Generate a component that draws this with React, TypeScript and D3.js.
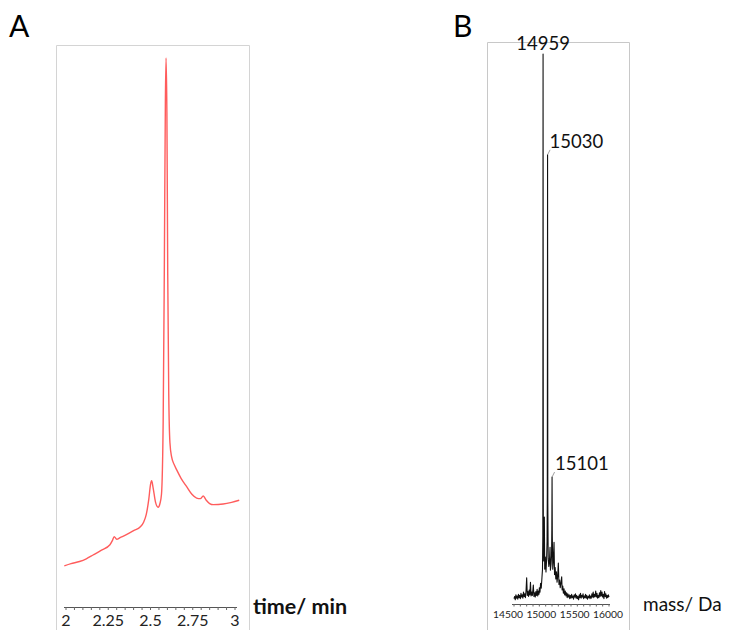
import React from 'react';
import * as d3 from 'd3';

// ---------- Panel A: chromatogram ----------
const timeTicks = [2, 2.25, 2.5, 2.75, 3];
const timeMinorTicks = [2, 2.05, 2.1, 2.15, 2.2, 2.25, 2.3, 2.35, 2.4, 2.45, 2.5, 2.55, 2.6, 2.65, 2.7, 2.75, 2.8, 2.85, 2.9, 2.95, 3];
const chromTime = [1.99, 2.03, 2.08, 2.12, 2.16, 2.21, 2.26, 2.275, 2.285, 2.3, 2.32, 2.36, 2.4, 2.44, 2.46, 2.475, 2.49, 2.5, 2.507, 2.515, 2.53, 2.545, 2.556, 2.565, 2.575, 2.582, 2.588, 2.592, 2.597, 2.602, 2.608, 2.615, 2.625, 2.64, 2.655, 2.68, 2.714, 2.745, 2.773, 2.795, 2.812, 2.83, 2.85, 2.872, 2.93, 2.98, 3.025];
const chromSignal = [6.3, 6.7, 7.1, 7.6, 8.3, 9.2, 10.2, 11.0, 11.7, 11.2, 11.5, 12.1, 12.8, 13.5, 14.4, 15.8, 18.6, 21.3, 22.0, 20.8, 18.0, 17.1, 17.8, 19.5, 33, 62, 92, 100, 90, 60, 38, 29, 26.4, 25.0, 24.0, 22.5, 20.9, 19.5, 18.8, 18.7, 19.2, 18.4, 17.8, 17.6, 17.7, 18.0, 18.4];

// ---------- Panel B: deconvoluted mass spectrum ----------
const massTicks = [14500, 15000, 15500, 16000];
const massMinorTicks = [14500, 14600, 14700, 14800, 14900, 15000, 15100, 15200, 15300, 15400, 15500, 15600, 15700, 15800, 15900, 16000];
const specMass = [
  14500, 14510, 14520, 14530, 14540, 14550, 14560, 14570, 14580, 14590, 14600, 14610, 14620, 14630, 14640, 14650, 14660, 14670, 14680, 14690,
  14700, 14710, 14720, 14730, 14740, 14750, 14760, 14770, 14780, 14790, 14800, 14805, 14815, 14825, 14835, 14845, 14855, 14865, 14875, 14885,
  14895, 14900, 14910, 14920, 14930, 14940, 14950, 14955, 14959, 14963, 14970, 14979, 14985, 14995, 15005, 15015, 15022, 15026, 15030, 15034,
  15040, 15050, 15060, 15069, 15075, 15085, 15093, 15097, 15101, 15105, 15112, 15120, 15132, 15140, 15150, 15160, 15170, 15180, 15190, 15200,
  15210, 15220, 15230, 15240, 15253, 15260, 15270, 15280, 15290, 15300, 15310, 15320, 15330, 15340, 15350, 15360, 15370, 15380, 15390, 15400,
  15410, 15420, 15430, 15440, 15450, 15460, 15470, 15480, 15490, 15500, 15510, 15520, 15530, 15540, 15550, 15560, 15570, 15580, 15590, 15600,
  15610, 15620, 15630, 15640, 15650, 15660, 15670, 15680, 15690, 15700, 15710, 15720, 15730, 15740, 15750, 15760, 15770, 15780, 15790, 15800,
  15810, 15820, 15830, 15840, 15850, 15860, 15870, 15880, 15890, 15900, 15910, 15920, 15930, 15940, 15950, 15960, 15970, 15980, 15990, 16000
];
const specIntensity = [
  0.6, 1.0, 0.4, 1.3, 0.7, 1.1, 0.5, 1.4, 0.8, 1.2, 0.6, 1.6, 0.9, 1.3, 0.7, 1.8, 1.0, 1.5, 0.8, 2.0,
  4.4, 1.2, 1.9, 1.0, 2.2, 1.3, 3.6, 1.1, 1.8, 1.2, 2.4, 3.1, 1.0, 1.7, 0.9, 1.9, 1.2, 2.3, 1.1, 2.0,
  1.4, 2.6, 1.8, 3.4, 2.5, 4.2, 6.0, 12, 100, 14, 7.5, 15.5, 6.0, 8.2, 5.5, 7.8, 11, 20, 81.6, 18,
  8.0, 6.5, 7.4, 10.0, 5.8, 6.9, 8.5, 13, 22.8, 12, 6.0, 7.2, 10.9, 5.0, 6.3, 4.2, 5.5, 3.6, 4.8, 7.1,
  3.2, 4.0, 2.6, 3.4, 4.6, 2.2, 2.9, 1.6, 2.4, 1.3, 2.0, 1.1, 1.7, 0.8, 1.5, 0.9, 1.3, 0.6, 1.2, 0.7,
  1.4, 0.8, 1.1, 0.5, 1.3, 0.9, 1.5, 0.7, 1.2, 0.6, 1.0, 0.4, 1.3, 0.8, 1.6, 0.7, 1.2, 0.9, 1.5, 0.6,
  1.1, 0.8, 1.4, 0.7, 1.2, 0.5, 1.0, 0.8, 1.3, 0.6, 1.1, 0.7, 1.5, 0.9, 1.8, 0.8, 1.4, 1.0, 2.0, 0.9,
  1.6, 0.7, 1.2, 0.8, 1.7, 1.0, 2.1, 1.1, 1.8, 0.9, 1.4, 0.6, 1.9, 1.0, 1.5, 0.7, 1.2, 0.8, 1.3, 0.9
];
const peakLabels = ['14959', '15030', '15101'];
const peakMasses = [14959, 15030, 15101];

const FONT = 'Lato, "Open Sans", sans-serif';

export default function App() {
  // Panel A scales
  const xA = d3.scaleLinear().domain([2, 3]).range([66, 235]);
  const yA = d3.scaleLinear().domain([0, 100]).range([600, 58]);
  const chromPts: [number, number][] = chromTime.map((t, i) => [t, chromSignal[i]]);
  const lineA = d3
    .line<[number, number]>()
    .x((d) => xA(d[0]))
    .y((d) => yA(d[1]))
    .curve(d3.curveMonotoneX);

  // Panel B scales
  const xB = d3.scaleLinear().domain([14500, 16000]).range([514, 609]);
  const xBLabel = d3.scaleLinear().domain([14500, 16000]).range([508, 608]);
  const yB = d3.scaleLinear().domain([0, 100]).range([602, 54]);
  const specPts: [number, number][] = specMass.map((m, i) => [m, specIntensity[i]]);
  const lineB = d3
    .line<[number, number]>()
    .x((d) => xB(d[0]))
    .y((d) => yB(d[1]));

  const axisYA = 607;
  const axisYB = 604;

  const labelOffsets = [
    { dx: 0, dy: -4, anchor: 'middle', leader: false },
    { dx: 2, dy: -7, anchor: 'start', leader: true },
    { dx: 3, dy: -7, anchor: 'start', leader: true },
  ];

  return (
    <svg
      width={729}
      height={630}
      style={{ position: 'absolute', left: 0, top: 0, background: '#fff' }}
      fontFamily={FONT}
    >
      <rect x={0} y={0} width={729} height={630} fill="#fff" />

      {/* Panel A */}
      <text x={9} y={37} fontSize={30} fill="#000">A</text>
      <path d="M56.5,635 V45.5 H249.5 V635" fill="none" stroke="#d4d4d4" strokeWidth={1} />
      <path d={lineA(chromPts) || ''} fill="none" stroke="#ff5c5c" strokeWidth={1.4} strokeLinejoin="round" />
      <line x1={64} x2={237} y1={axisYA + 0.5} y2={axisYA + 0.5} stroke="#555" strokeWidth={1} />
      {timeMinorTicks.map((t) => (
        <line key={'mt' + t} x1={xA(t)} x2={xA(t)} y1={axisYA} y2={axisYA + 3} stroke="#666" strokeWidth={1} />
      ))}
      {timeTicks.map((t) => (
        <text key={'tt' + t} x={xA(t)} y={626} fontSize={16} textAnchor="middle" fill="#222">
          {String(t)}
        </text>
      ))}
      <text x={253} y={614} fontSize={21.5} fontWeight="bold" fill="#111">time/ min</text>

      {/* Panel B */}
      <text x={453} y={37} fontSize={30} fill="#000">B</text>
      <path d="M487.5,635 V42.5 H629.5 V635" fill="none" stroke="#c8c8c8" strokeWidth={1} />
      <path d={lineB(specPts) || ''} fill="none" stroke="#111" strokeWidth={1.1} strokeLinejoin="round" />
      <line x1={512} x2={610} y1={axisYB + 0.5} y2={axisYB + 0.5} stroke="#555" strokeWidth={1} />
      {massMinorTicks.map((m) => (
        <line key={'mm' + m} x1={xB(m)} x2={xB(m)} y1={axisYB} y2={axisYB + 2.5} stroke="#666" strokeWidth={1} />
      ))}
      {massTicks.map((m) => (
        <text key={'mt' + m} x={xBLabel(m)} y={618} fontSize={10.3} textAnchor="middle" fill="#222">
          {String(m)}
        </text>
      ))}
      <text x={643} y={611} fontSize={19} fill="#111">mass/ Da</text>

      {peakMasses.map((m, i) => {
        const idx = specMass.indexOf(m);
        const px = xB(m);
        const py = yB(specIntensity[idx]);
        const o = labelOffsets[i];
        return (
          <g key={'pk' + m}>
            {o.leader && (
              <line x1={px} y1={py} x2={px + 2.5} y2={py - 5} stroke="#888" strokeWidth={0.8} />
            )}
            <text
              x={px + o.dx}
              y={py + o.dy}
              fontSize={18.5}
              textAnchor={o.anchor as any}
              fill="#111"
            >
              {peakLabels[i]}
            </text>
          </g>
        );
      })}
    </svg>
  );
}
